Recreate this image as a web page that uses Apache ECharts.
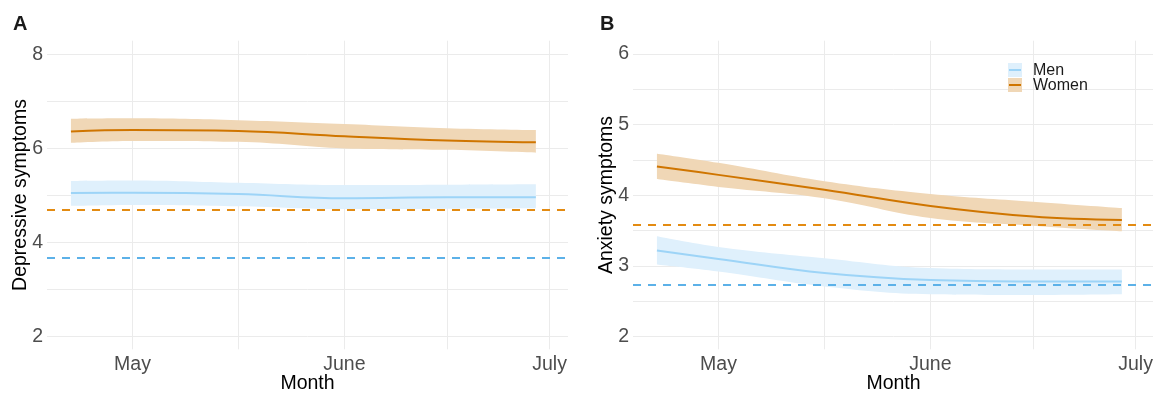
<!DOCTYPE html>
<html>
<head>
<meta charset="utf-8">
<script src="https://cdn.jsdelivr.net/npm/echarts@6/dist/echarts.min.js"></script>
<style>html,body{margin:0;padding:0;background:#fff;}#c{width:1153px;height:393px;}</style>
</head>
<body>
<div id="c"></div>
<script>
// ---- data ----
const days = [-9, 0, 15.5, 31, 46, 59];           // days since May 1
const monthTicks = [0, 31, 61];
const monthLabels = ['May', 'June', 'July'];
const vGrid = [0, 15.5, 31, 46, 61];
const groupNames = ['Men', 'Women'];
const panelLabels = ['A', 'B'];
const yTitles = ['Depressive symptoms', 'Anxiety symptoms'];
const xTitle = 'Month';

// Panel A: depressive symptoms
const depWomenFit   = [6.36, 6.39, 6.37, 6.26, 6.17, 6.13];
const depWomenUpper = [6.63, 6.64, 6.60, 6.52, 6.43, 6.39];
const depWomenLower = [6.12, 6.16, 6.14, 6.00, 5.97, 5.91];
const depMenFit     = [5.05, 5.06, 5.03, 4.94, 4.96, 4.96];
const depMenUpper   = [5.31, 5.32, 5.27, 5.22, 5.23, 5.24];
const depMenLower   = [4.78, 4.80, 4.77, 4.71, 4.72, 4.73];
const depRefWomen = 4.69;
const depRefMen = 3.68;
const depTicks = [2, 4, 6, 8];
const depGrid = [2, 3, 4, 5, 6, 7, 8];

// Panel B: anxiety symptoms
const anxWomenFit   = [4.41, 4.29, 4.08, 3.85, 3.70, 3.65];
const anxWomenUpper = [4.59, 4.46, 4.20, 4.02, 3.91, 3.82];
const anxWomenLower = [4.23, 4.12, 3.96, 3.68, 3.57, 3.49];
const anxMenFit     = [3.22, 3.10, 2.90, 2.80, 2.78, 2.78];
const anxMenUpper   = [3.42, 3.27, 3.11, 2.97, 2.95, 2.95];
const anxMenLower   = [3.02, 2.92, 2.71, 2.60, 2.59, 2.60];
const anxRefWomen = 3.59;
const anxRefMen = 2.74;
const anxTicks = [2, 3, 4, 5, 6];
const anxGrid = [2, 2.5, 3, 3.5, 4, 4.5, 5, 5.5, 6];

// ---- styles ----
const FONT = 'Liberation Sans, Arial, Helvetica, sans-serif';
const C = {
  womenLine: '#cf7500', womenBand: '#f0d7b6', womenRef: '#e38b12',
  menLine: '#9dd4f7', menBand: '#dff0fc', menRef: '#5cb1e8',
  grid: '#ebebeb', tick: '#4d4d4d', title: '#000000'
};

const panels = [
  {left: 47, ymin: 1.73, ymax: 8.29, ticks: depTicks, hgrid: depGrid,
   wf: depWomenFit, wu: depWomenUpper, wl: depWomenLower,
   mf: depMenFit, mu: depMenUpper, ml: depMenLower, rw: depRefWomen, rm: depRefMen},
  {left: 633, ymin: 1.82, ymax: 6.19, ticks: anxTicks, hgrid: anxGrid,
   wf: anxWomenFit, wu: anxWomenUpper, wl: anxWomenLower,
   mf: anxMenFit, mu: anxMenUpper, ml: anxMenLower, rw: anxRefWomen, rm: anxRefMen}
];

const grids = [], xAxes = [], yAxes = [], series = [];
const pair = (xs, ys) => xs.map((x, i) => [x, ys[i]]);
// value-first pairs so the stack acts on the y dimension
const pairYX = (xs, ys) => xs.map((x, i) => [ys[i], x]);

panels.forEach((p, gi) => {
  grids.push({left: p.left, width: 521, top: 40.7, height: 308.6,
    containLabel: false, outerBoundsMode: 'none'});
  xAxes.push({
    type: 'value', gridIndex: gi, min: -12.5, max: 63.7,
    name: xTitle, nameLocation: 'middle', nameGap: 24, nameMoveOverlap: false,
    nameTextStyle: {fontFamily: FONT, fontSize: 19.5, color: C.title},
    axisLine: {show: false}, axisTick: {show: false}, splitLine: {show: false},
    axisLabel: {customValues: monthTicks, formatter: v => monthLabels[monthTicks.indexOf(v)],
      fontFamily: FONT, fontSize: 19.5, color: C.tick, margin: 5}
  });
  yAxes.push({
    type: 'value', gridIndex: gi, min: p.ymin, max: p.ymax,
    name: yTitles[gi], nameLocation: 'middle', nameGap: 16, nameRotate: 90, nameMoveOverlap: false,
    nameTextStyle: {fontFamily: FONT, fontSize: 19.5, color: C.title},
    axisLine: {show: false}, axisTick: {show: false}, splitLine: {show: false},
    axisLabel: {customValues: p.ticks, formatter: v => String(v),
      fontFamily: FONT, fontSize: 19.5, color: C.tick, margin: 4}
  });
  // gridlines (drawn beneath everything)
  series.push({
    type: 'line', xAxisIndex: gi, yAxisIndex: gi, data: [], silent: true, z: 0,
    markLine: {silent: true, z: 0, symbol: 'none', animation: false, label: {show: false},
      lineStyle: {color: C.grid, width: 1, type: 'solid'},
      emphasis: {disabled: true},
      data: vGrid.map(v => ({xAxis: v})).concat(p.hgrid.map(v => ({yAxis: v})))}
  });
  // confidence bands (stacked: lower + width)
  const band = (lower, upper, color, id) => {
    series.push({type: 'line', xAxisIndex: gi, yAxisIndex: gi, stack: id, z: 2,
      encode: {x: 1, y: 0},
      data: pairYX(days, lower), smooth: 0.4, symbol: 'none', silent: true,
      lineStyle: {width: 0, opacity: 0}});
    series.push({type: 'line', xAxisIndex: gi, yAxisIndex: gi, stack: id, z: 2,
      encode: {x: 1, y: 0},
      data: pairYX(days, upper.map((u, i) => u - lower[i])), smooth: 0.4, symbol: 'none', silent: true,
      lineStyle: {width: 0, opacity: 0}, areaStyle: {color: color, opacity: 1}});
  };
  band(p.ml, p.mu, C.menBand, 'm' + gi);
  band(p.wl, p.wu, C.womenBand, 'w' + gi);
  // fitted lines
  series.push({type: 'line', name: groupNames[0], xAxisIndex: gi, yAxisIndex: gi, z: 3,
    data: pair(days, p.mf), smooth: 0.4, symbol: 'none', silent: true,
    lineStyle: {color: C.menLine, width: 2}});
  series.push({type: 'line', name: groupNames[1], xAxisIndex: gi, yAxisIndex: gi, z: 3,
    data: pair(days, p.wf), smooth: 0.4, symbol: 'none', silent: true,
    lineStyle: {color: C.womenLine, width: 2}});
  // reference dashed lines
  series.push({
    type: 'line', xAxisIndex: gi, yAxisIndex: gi, data: [], silent: true, z: 4,
    markLine: {silent: true, z: 5, symbol: 'none', animation: false, label: {show: false},
      emphasis: {disabled: true},
      data: [
        {yAxis: p.rw, lineStyle: {color: C.womenRef, width: 2, type: [8, 7]}},
        {yAxis: p.rm, lineStyle: {color: C.menRef, width: 2, type: [8, 7]}}
      ]}
  });
});

const graphic = [
  {type: 'text', z: 10, left: 13, top: 14, style: {text: panelLabels[0], font: 'bold 20px ' + FONT, fill: '#1a1a1a'}},
  {type: 'text', z: 10, left: 600, top: 14, style: {text: panelLabels[1], font: 'bold 20px ' + FONT, fill: '#1a1a1a'}},
  // legend
  {type: 'rect', z: 10, shape: {x: 1008, y: 63, width: 14, height: 14}, style: {fill: C.menBand}},
  {type: 'line', z: 10, shape: {x1: 1009, y1: 70, x2: 1021, y2: 70}, style: {stroke: C.menLine, lineWidth: 2}},
  {type: 'rect', z: 10, shape: {x: 1008, y: 78, width: 14, height: 14}, style: {fill: C.womenBand}},
  {type: 'line', z: 10, shape: {x1: 1009, y1: 85, x2: 1021, y2: 85}, style: {stroke: C.womenLine, lineWidth: 2}},
  {type: 'text', z: 10, x: 1033, y: 70.5, style: {text: groupNames[0], font: '16px ' + FONT, fill: '#1a1a1a', verticalAlign: 'middle'}},
  {type: 'text', z: 10, x: 1033, y: 86, style: {text: groupNames[1], font: '16px ' + FONT, fill: '#1a1a1a', verticalAlign: 'middle'}}
];

const chart = echarts.init(document.getElementById('c'), null, {renderer: 'canvas'});
chart.setOption({
  animation: false,
  backgroundColor: '#ffffff',
  grid: grids, xAxis: xAxes, yAxis: yAxes, series: series, graphic: graphic
});
</script>
</body>
</html>
